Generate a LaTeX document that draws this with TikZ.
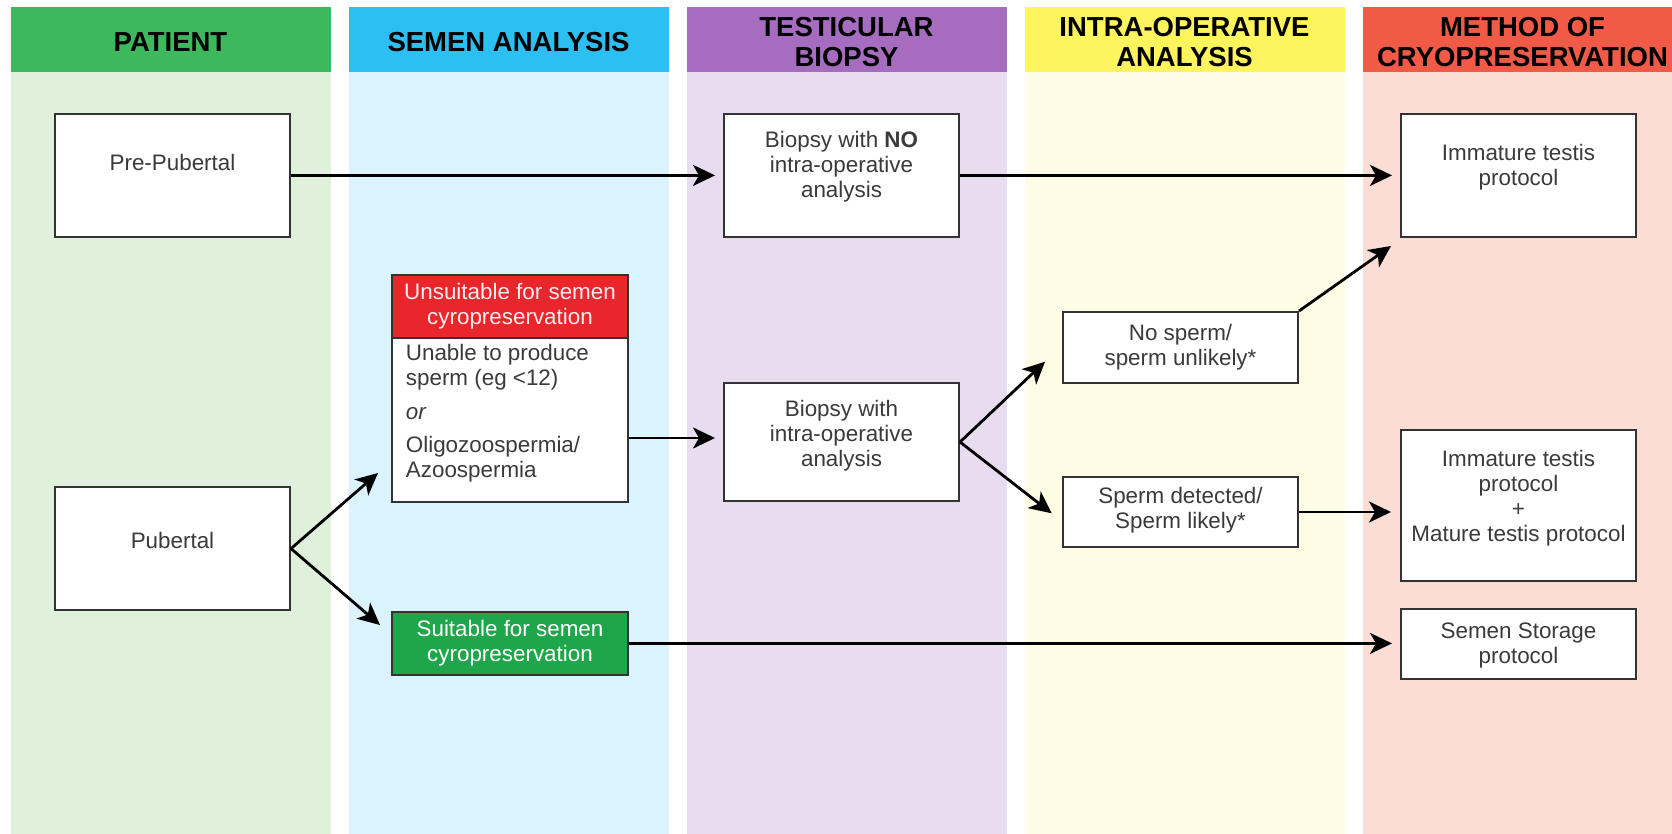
\documentclass[tikz,border=0pt]{standalone}
\usepackage{fontspec}
\setmainfont{Liberation Sans}
\usetikzlibrary{arrows.meta}
\definecolor{hgreen}{HTML}{3DB85C}
\definecolor{hblue}{HTML}{2CBFF1}
\definecolor{hpurple}{HTML}{A66CBF}
\definecolor{hyellow}{HTML}{FEF45E}
\definecolor{hred}{HTML}{F15A46}
\definecolor{bgreen}{HTML}{E0F1DB}
\definecolor{bblue}{HTML}{DBF3FD}
\definecolor{bpurple}{HTML}{E8DCF0}
\definecolor{byellow}{HTML}{FEFCE4}
\definecolor{bred}{HTML}{FBDDD5}
\definecolor{boxline}{HTML}{333333}
\definecolor{txtgray}{HTML}{3A3A3A}
\definecolor{ured}{HTML}{E8262B}
\definecolor{ugreen}{HTML}{1FA64A}
\definecolor{paletxt}{HTML}{FDEDEE}
\begin{document}
\begin{tikzpicture}[x=1pt,y=-1pt,
  box/.style={draw=boxline, line width=2pt, fill=white, minimum width=235pt, inner sep=0pt},
  txt/.style={font=\fontsize{22.4}{25}\selectfont, text=txtgray, align=center, inner sep=0pt},
  hdr/.style={font=\fontsize{27.5}{30}\selectfont\bfseries, text=black, align=center, inner sep=0pt},
  arr/.style={line width=2.8pt, draw=black, -{Stealth[length=22pt,width=21pt,inset=6pt]}}]
\useasboundingbox (0,0) rectangle (1672,834);
% columns
\foreach \i/\hc/\bc in {0/hgreen/bgreen,1/hblue/bblue,2/hpurple/bpurple,3/hyellow/byellow,4/hred/bred}{
  \fill[\bc] ({10.5+338*\i},71.7) rectangle ++(320,770);
  \fill[\hc] ({10.5+338*\i},7.3) rectangle ++(320,64.4);
}
% headers
\node[hdr] (h1) at (170.5,42) {PATIENT};
\node[hdr] (h2) at (508.5,42) {SEMEN ANALYSIS};
\node[hdr] (h3) at (846.5,42) {TESTICULAR\\BIOPSY};
\node[hdr] (h4) at (1184.5,42) {INTRA-OPERATIVE\\ANALYSIS};
\node[hdr] (h5) at (1522.5,42) {METHOD OF\\CRYOPRESERVATION};
% patient
\node[box, minimum height=122.7pt] (pre) at (172.5,175.4) {};
\node[txt] (pretxt) at (172.5,162) {Pre-Pubertal};
\node[box, minimum height=122.7pt] (pub) at (172.5,548.6) {};
\node[txt] (pubtxt) at (172.5,540) {Pubertal};
% semen analysis
\node[box, minimum width=235.3pt, minimum height=226.7pt] (unsuit) at (510,388.3) {};
\node[box, fill=ured, minimum width=235.3pt, minimum height=63.3pt, anchor=north, text=paletxt,
      font=\fontsize{22.4}{25}\selectfont, align=center] (unsuithead) at (unsuit.north) {Unsuitable for semen\\cyropreservation};
\node[txt, align=left, anchor=west] (unsuittxt) at (405.7,413.7)
  {Unable to produce\\sperm (eg <12)\\[8.5pt]\textit{or}\\[8.5pt]Oligozoospermia/\\Azoospermia};
\node[box, fill=ugreen, minimum width=235.3pt, minimum height=63.3pt, text=white,
      font=\fontsize{22.4}{25}\selectfont, align=center] (suit) at (510,643.4) {Suitable for semen\\cyropreservation};
% biopsy
\node[box, minimum height=122.7pt] (bno) at (841.5,175.4) {};
\node[txt] (bnotxt) at (841.5,166.5) {Biopsy with \textbf{NO}\\intra-operative\\analysis};
\node[box, minimum height=118.2pt] (bwith) at (841.5,442) {};
\node[txt] (bwithtxt) at (841.5,436) {Biopsy with\\intra-operative\\analysis};
% intra-operative
\node[box, minimum height=71pt] (nosp) at (1180.5,347.5) {};
\node[txt] (nosptxt) at (1180.5,347.5) {No sperm/\\sperm unlikely*};
\node[box, minimum height=70pt] (sp) at (1180.5,512) {};
\node[txt] (sptxt) at (1180.5,510.5) {Sperm detected/\\Sperm likely*};
% method
\node[box, minimum height=122.7pt] (imm) at (1518.5,175.4) {};
\node[txt] (immtxt) at (1518.5,167) {Immature testis\\protocol};
\node[box, minimum height=151.3pt] (immmat) at (1518.5,505.4) {};
\node[txt] (immmattxt) at (1518.5,498) {Immature testis\\protocol\\+\\Mature testis protocol};
\node[box, minimum height=70pt] (stor) at (1518.5,644) {};
\node[txt] (stortxt) at (1518.5,645) {Semen Storage\\protocol};
% connectors
\coordinate (pubup) at (378,473);
\coordinate (pubdn) at (380,625);
\coordinate (nosptip) at (1045,361.7);
\coordinate (sptip) at (1051.7,513.3);
\coordinate (immtip) at (1391,246);
\draw[arr, shorten >=8pt] (pre.east) -- (bno.west);
\draw[arr, shorten >=8pt] (bno.east) -- (imm.west);
\draw[arr] (pub.east) -- (pubup);
\draw[arr] (pub.east) -- (pubdn);
\draw[arr, shorten >=8pt] ([yshift=4pt]unsuit.east |- bwith.west) -- ([yshift=4pt]bwith.west);
\draw[arr] (bwith.east) -- (nosptip);
\draw[arr] (bwith.east) -- (sptip);
\draw[arr] (nosp.north east) -- (immtip);
\draw[arr, shorten >=9pt] (sp.east) -- (sp.east -| immmat.west);
\draw[arr, shorten >=8pt] (suit.east) -- (suit.east -| stor.west);
\end{tikzpicture}
\end{document}
